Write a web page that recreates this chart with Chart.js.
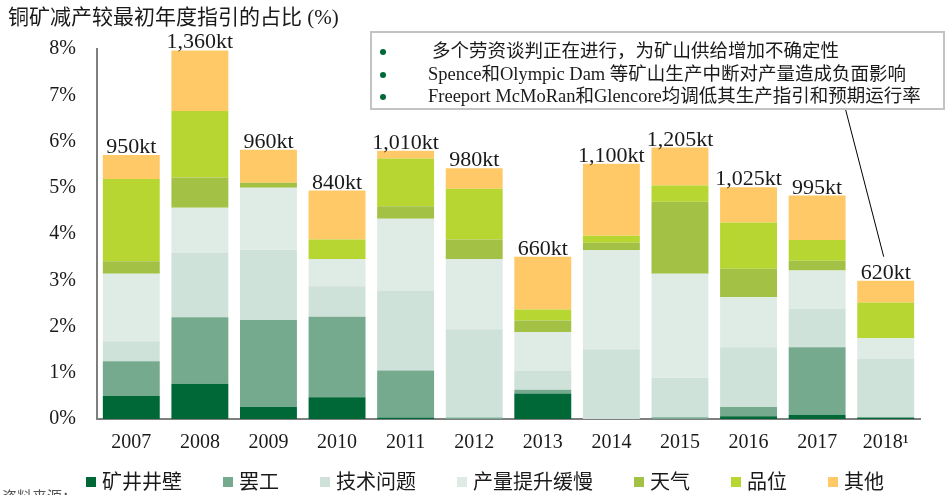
<!DOCTYPE html>
<html>
<head>
<meta charset="utf-8">
<script src="https://cdn.jsdelivr.net/npm/chart.js@4.4.1/dist/chart.umd.min.js"></script>
<style>
  html, body { margin: 0; padding: 0; background: #fff; }
  #wrap { width: 949px; height: 495px; position: relative; }
</style>
</head>
<body>
<div id="wrap"><canvas id="copperChart"></canvas></div>
<script>
// ===============================
// DATA (share of initial annual guidance, %)
// ===============================
const years = ['2007', '2008', '2009', '2010', '2011', '2012', '2013', '2014', '2015', '2016', '2017', '2018\u00b9'];
const totalLabels = ['950kt', '1,360kt', '960kt', '840kt', '1,010kt', '980kt', '660kt', '1,100kt', '1,205kt', '1,025kt', '995kt', '620kt'];

const shaftWall = [0.50, 0.76, 0.26, 0.47, 0.03, 0.00, 0.55, 0.00, 0.00, 0.06, 0.09, 0.03];
const strike    = [0.75, 1.44, 1.88, 1.74, 1.02, 0.03, 0.08, 0.00, 0.04, 0.20, 1.46, 0.00];
const technical = [0.43, 1.39, 1.52, 0.66, 1.73, 1.91, 0.42, 1.51, 0.85, 1.29, 0.83, 1.27];
const slowRamp  = [1.46, 0.98, 1.34, 0.59, 1.55, 1.52, 0.83, 2.14, 2.25, 1.08, 0.83, 0.45];
const weather   = [0.27, 0.65, 0.11, 0.00, 0.27, 0.42, 0.25, 0.16, 1.56, 0.62, 0.21, 0.00];
const oreGrade  = [1.78, 1.44, 0.00, 0.42, 1.03, 1.10, 0.24, 0.15, 0.35, 1.00, 0.45, 0.77];
const other     = [0.52, 1.31, 0.71, 1.06, 0.17, 0.44, 1.14, 1.56, 0.82, 0.76, 0.96, 0.47];

const yTicks = [0, 1, 2, 3, 4, 5, 6, 7, 8];
const notes = [
    '多个劳资谈判正在进行，为矿山供给增加不确定性',
    'Spence和Olympic Dam 等矿山生产中断对产量造成负面影响',
    'Freeport McMoRan和Glencore均调低其生产指引和预期运行率'
];

// ===============================
// STYLE
// ===============================
const SERIF = "'Liberation Serif', 'Noto Sans CJK SC', serif";
const seriesDefs = [
    { label: '矿井井壁', data: shaftWall, color: '#006837' },
    { label: '罢工', data: strike, color: '#75aa8f' },
    { label: '技术问题', data: technical, color: '#cfe2d9' },
    { label: '产量提升缓慢', data: slowRamp, color: '#dfece6' },
    { label: '天气', data: weather, color: '#a2c145' },
    { label: '品位', data: oreGrade, color: '#b8d631' },
    { label: '其他', data: other, color: '#fec966' }
];

// Title, value labels, note box, custom legend
const overlayPlugin = {
    id: 'overlay',
    afterDraw(chart) {
        const { ctx, scales: { x, y } } = chart;
        ctx.save();

        // title
        ctx.fillStyle = '#1a1a1a';
        ctx.font = `21px ${SERIF}`;
        ctx.textAlign = 'left';
        ctx.textBaseline = 'middle';
        ctx.fillText('铜矿减产较最初年度指引的占比 (%)', 8, 18);

        // totals above bars
        ctx.font = `22px ${SERIF}`;
        ctx.textAlign = 'center';
        ctx.textBaseline = 'alphabetic';
        years.forEach((yr, i) => {
            const sum = seriesDefs.reduce((acc, s) => acc + s.data[i], 0);
            ctx.fillText(totalLabels[i], x.getPixelForValue(i), y.getPixelForValue(sum) - 2);
        });

        // note box
        const box = { left: 371, top: 32, right: 944, bottom: 109 };
        ctx.strokeStyle = '#c3c3c3';
        ctx.lineWidth = 2;
        ctx.strokeRect(box.left, box.top, box.right - box.left, box.bottom - box.top);
        ctx.font = `18.5px ${SERIF}`;
        ctx.textAlign = 'left';
        ctx.textBaseline = 'middle';
        const rowY = [52, 75, 97];
        notes.forEach((t, i) => {
            ctx.fillStyle = '#006837';
            ctx.beginPath();
            ctx.arc(383, rowY[i], 3, 0, Math.PI * 2);
            ctx.fill();
            ctx.fillStyle = '#1a1a1a';
            ctx.fillText(t, i === 0 ? 432 : 428, rowY[i]);
        });

        // leader line to 2018 bar
        const last = years.length - 1;
        const lastSum = seriesDefs.reduce((acc, s) => acc + s.data[last], 0);
        const lx = x.getPixelForValue(last);
        const ly = y.getPixelForValue(lastSum);
        ctx.strokeStyle = '#000';
        ctx.lineWidth = 1;
        ctx.beginPath();
        ctx.moveTo(lx - 40, box.bottom + 1);
        ctx.lineTo(lx - 2, ly - 24);
        ctx.stroke();

        // legend
        ctx.font = `20px ${SERIF}`;
        let lxPos = 86;
        const legY = 483;
        seriesDefs.forEach(s => {
            ctx.fillStyle = s.color;
            ctx.fillRect(lxPos, legY - 6, 10, 10);
            ctx.fillStyle = '#1a1a1a';
            ctx.fillText(s.label, lxPos + 16, legY + 1);
            lxPos += 16 + ctx.measureText(s.label).width + 41;
        });

        // cropped source line
        ctx.font = `15px ${SERIF}`;
        ctx.fillStyle = '#555';
        ctx.textBaseline = 'top';
        ctx.fillText('资料来源：', 2, 491);

        ctx.restore();
    }
};

const ctx = document.getElementById('copperChart').getContext('2d');
const copperChart = new Chart(ctx, {
    type: 'bar',
    data: {
        labels: years,
        datasets: seriesDefs.map(s => ({
            label: s.label,
            data: s.data,
            backgroundColor: s.color,
            borderWidth: 0,
            barPercentage: 0.83,
            categoryPercentage: 1.0
        }))
    },
    options: {
        responsive: true,
        maintainAspectRatio: false,
        animation: false,
        layout: { padding: { top: 49, right: 29, bottom: 28, left: 0 } },
        plugins: {
            legend: { display: false },
            tooltip: { enabled: false }
        },
        scales: {
            x: {
                stacked: true,
                grid: { display: false, drawTicks: false },
                border: { display: true, color: '#7f7f7f', width: 2 },
                ticks: { color: '#1a1a1a', font: { family: SERIF, size: 20 }, padding: 12, maxRotation: 0 }
            },
            y: {
                stacked: true,
                min: yTicks[0],
                max: yTicks[yTicks.length - 1],
                afterFit: scale => { scale.width = 97; },
                afterBuildTicks: scale => { scale.ticks = yTicks.map(v => ({ value: v })); },
                grid: { display: false, drawTicks: false },
                border: { display: true, color: '#7f7f7f', width: 2 },
                ticks: {
                    color: '#1a1a1a',
                    font: { family: SERIF, size: 20 },
                    padding: 21,
                    callback: v => v + '%'
                }
            }
        }
    },
    plugins: [overlayPlugin]
});
</script>
</body>
</html>
